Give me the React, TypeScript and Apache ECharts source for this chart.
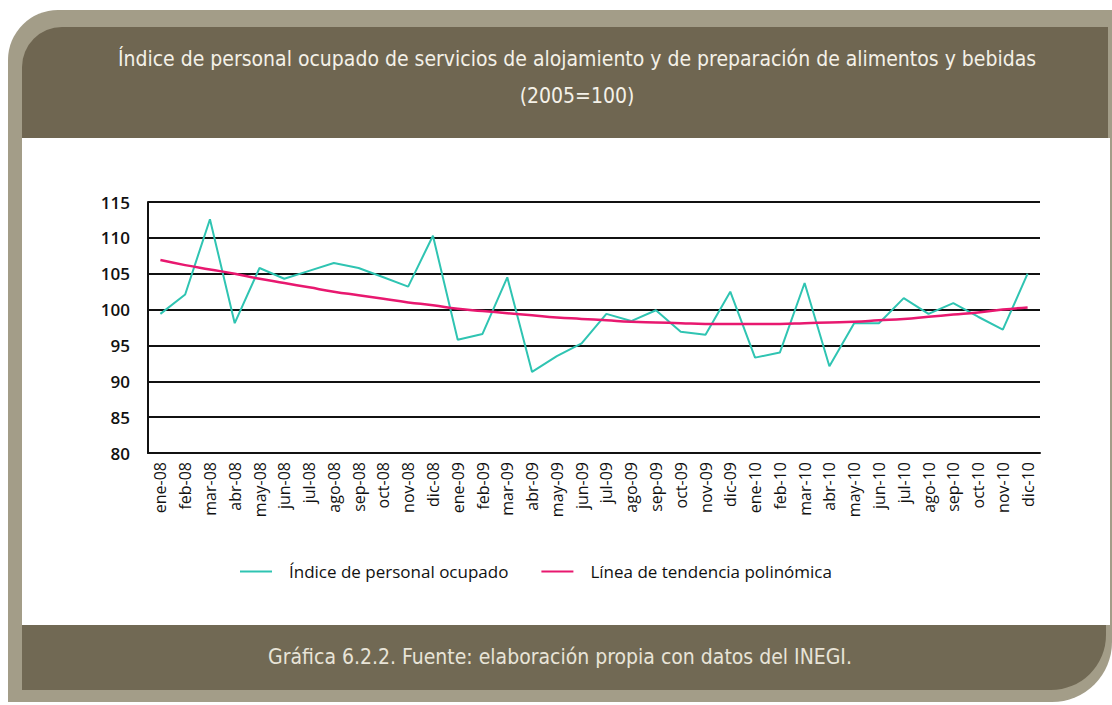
import React, { useEffect, useRef } from "react";
import * as echarts from "echarts";

const months = [
  "ene-08", "feb-08", "mar-08", "abr-08", "may-08", "jun-08", "jul-08", "ago-08", "sep-08", "oct-08", "nov-08", "dic-08",
  "ene-09", "feb-09", "mar-09", "abr-09", "may-09", "jun-09", "jul-09", "ago-09", "sep-09", "oct-09", "nov-09", "dic-09",
  "ene-10", "feb-10", "mar-10", "abr-10", "may-10", "jun-10", "jul-10", "ago-10", "sep-10", "oct-10", "nov-10", "dic-10",
];

const indice = [
  99.4, 102.1, 112.6, 98.1, 105.8, 104.3, 105.4, 106.5, 105.8, 104.5, 103.2, 110.3,
  95.8, 96.6, 104.5, 91.3, 93.5, 95.3, 99.4, 98.4, 99.9, 96.9, 96.5, 102.5,
  93.3, 94.0, 103.7, 92.1, 98.1, 98.1, 101.6, 99.4, 100.9, 99.0, 97.2, 105.0,
];

const tendencia = [
  106.9, 106.2, 105.6, 105.0, 104.3, 103.7, 103.1, 102.5, 102.0, 101.5, 101.0, 100.6,
  100.1, 99.8, 99.5, 99.2, 98.9, 98.7, 98.5, 98.3, 98.2, 98.1, 98.0, 98.0,
  98.0, 98.0, 98.1, 98.2, 98.3, 98.5, 98.7, 99.0, 99.3, 99.6, 100.0, 100.3,
];

const yTicks = { min: 80, max: 115, interval: 5 };

const titleLine1 =
  "Índice de personal ocupado de servicios de alojamiento y de preparación de alimentos y bebidas";
const titleLine2 = "(2005=100)";
const footerText = "Gráfica 6.2.2. Fuente: elaboración propia con datos del INEGI.";
const seriesNames = ["Índice de personal ocupado", "Línea de tendencia polinómica"];

const condensed = "'DejaVu Sans Condensed', 'Liberation Sans Narrow', sans-serif";
const bodyFont = "'Open Sans', 'Noto Sans', sans-serif";

export default function App() {
  const ref = useRef<HTMLDivElement>(null);
  useEffect(() => {
    if (!ref.current) return;
    const chart = echarts.init(ref.current, undefined, { renderer: "svg" });
    chart.setOption({
      animation: false,
      backgroundColor: "#ffffff",
      graphic: [
        {
          type: "rect",
          z: -10,
          shape: { x: 8, y: 10, width: 1104, height: 692, r: [50, 0, 60, 0] },
          style: { fill: "#a39d88" },
        },
        {
          type: "rect",
          z: -9,
          shape: { x: 22, y: 27, width: 1086, height: 111, r: [40, 0, 0, 0] },
          style: { fill: "#6f6651" },
        },
        {
          type: "rect",
          z: -9,
          shape: { x: 22, y: 138, width: 1088, height: 487 },
          style: { fill: "#ffffff" },
        },
        {
          type: "rect",
          z: -9,
          shape: { x: 22, y: 625, width: 1084, height: 65, r: [0, 0, 55, 0] },
          style: { fill: "#716954" },
        },
        {
          type: "text",
          x: 577,
          y: 59,
          style: {
            text: titleLine1,
            fill: "#f4f1e8",
            font: `21px ${condensed}`,
            align: "center",
            verticalAlign: "middle",
          },
        },
        {
          type: "text",
          x: 577,
          y: 96,
          style: {
            text: titleLine2,
            fill: "#f4f1e8",
            font: `21px ${condensed}`,
            align: "center",
            verticalAlign: "middle",
          },
        },
        {
          type: "text",
          x: 560,
          y: 657,
          style: {
            text: footerText,
            fill: "#e8e4d8",
            font: `21px ${condensed}`,
            align: "center",
            verticalAlign: "middle",
          },
        },
      ],
      grid: { left: 148, right: 72, top: 202, bottom: 252, containLabel: false },
      legend: {
        left: 240,
        top: 563,
        padding: 0,
        itemGap: 33,
        itemWidth: 32,
        itemHeight: 2,
        data: seriesNames.map((n) => ({ name: n, icon: "rect" })),
        textStyle: { fontFamily: bodyFont, fontSize: 17, color: "#111", padding: [0, 0, 0, 12] },
      },
      xAxis: {
        type: "category",
        data: months,
        boundaryGap: true,
        axisLine: { show: true, lineStyle: { color: "#111", width: 2 } },
        axisTick: { show: false },
        axisLabel: {
          rotate: 90,
          interval: 0,
          margin: 9,
          fontFamily: bodyFont,
          fontSize: 16,
          color: "#111",
        },
      },
      yAxis: {
        type: "value",
        min: yTicks.min,
        max: yTicks.max,
        interval: yTicks.interval,
        axisLine: { show: true, lineStyle: { color: "#111", width: 2 } },
        axisTick: { show: false },
        splitLine: { show: true, lineStyle: { color: "#111", width: 2 } },
        axisLabel: {
          margin: 18,
          fontFamily: bodyFont,
          fontSize: 17,
          fontWeight: 600,
          color: "#111",
        },
      },
      series: [
        {
          name: seriesNames[0],
          type: "line",
          data: indice,
          symbol: "none",
          lineStyle: { color: "#2fc4b2", width: 2 },
          itemStyle: { color: "#2fc4b2" },
          z: 3,
        },
        {
          name: seriesNames[1],
          type: "line",
          data: tendencia,
          symbol: "none",
          smooth: true,
          lineStyle: { color: "#e8186f", width: 2.5 },
          itemStyle: { color: "#e8186f" },
          z: 4,
        },
      ],
    });
    return () => chart.dispose();
  }, []);
  return (
    <div
      ref={ref}
      style={{ position: "absolute", left: 0, top: 0, width: 1112, height: 705 }}
    />
  );
}
